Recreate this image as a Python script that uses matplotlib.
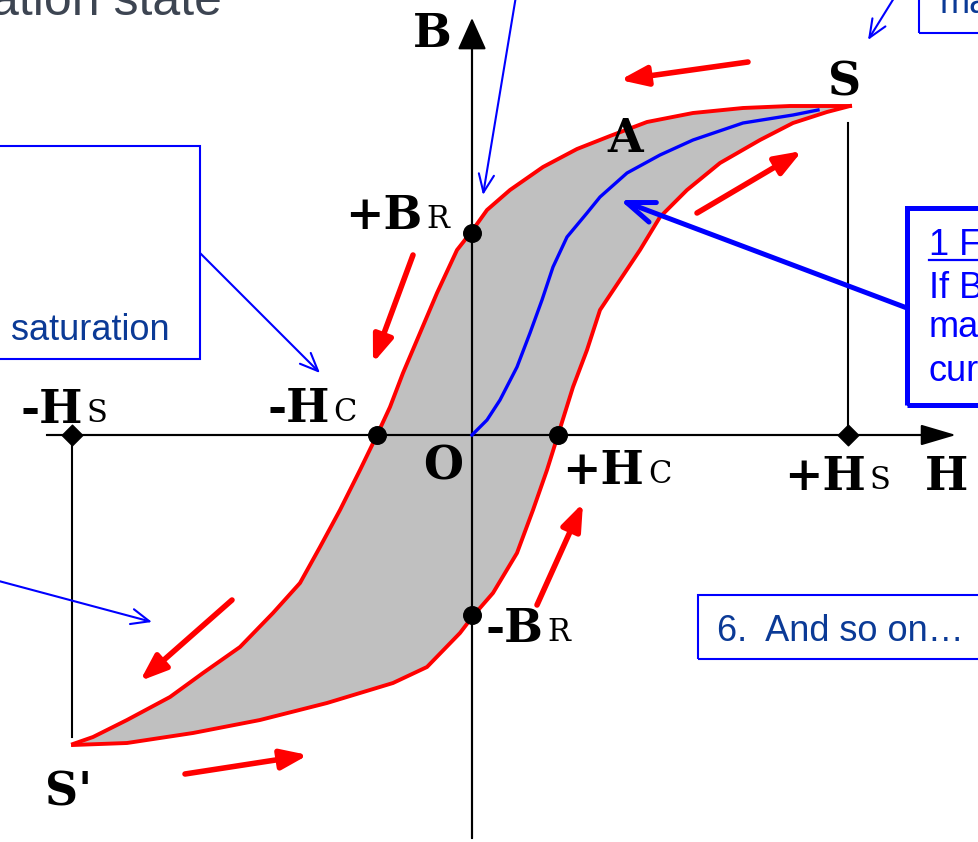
import numpy as np
import matplotlib
matplotlib.use('Agg')
import matplotlib.pyplot as plt
from matplotlib.patches import Rectangle

# ---------------- data (H, B in drawing units) ----------------
# descending branch S -> S'
h_down = [378, 318, 271, 221, 175, 138, 105, 71, 38, 15, 0, -15, -35, -52, -69, -82,
          -95, -112, -132, -152, -172, -199, -232, -269, -302, -345, -379, -399]
b_down = [329, 329, 327, 322, 313, 299, 286, 268, 245, 225, 204, 185, 142, 102, 62, 28,
          0, -35, -75, -112, -148, -178, -212, -238, -262, -285, -302, -309]
# ascending branch S' -> S
h_up = [-399, -345, -279, -212, -145, -79, -45, -12, 1, 21, 45, 61, 75, 86, 101, 115,
        128, 168, 188, 215, 248, 288, 321, 355, 378]
b_up = [-310, -308, -298, -285, -268, -248, -232, -198, -181, -158, -118, -75, -35, 0,
        48, 85, 125, 185, 218, 245, 272, 295, 312, 323, 329]
# initial magnetisation curve O -> S
h_init = [0, 15, 28, 45, 58, 70, 81, 95, 115, 128, 155, 188, 221, 271, 321, 346]
b_init = [0, 15, 35, 68, 102, 135, 168, 198, 222, 238, 262, 280, 295, 312, 320, 325]

# remanence / coercivity points (+Br, -Hc, +Hc, -Br)
key_h = [0, -95, 86, 0]
key_b = [202, 0, 0, -180]
# saturation field points (-Hs, +Hs) and the B level of their guide lines
sat_h = [-400, 376]
sat_b = [-302, 312]

# direction arrows along the loop (tail H, tail B, head H, head B)
dir_arrows = [
    (276, 373, 148, 355),
    (225, 222, 330, 284),
    (-59, 180, -99, 72),
    (65, -170, 111, -68),
    (-240, -165, -332, -246),
    (-287, -339, -164, -320),
]

# axis labels: main part, small suffix
labels_main = ["B", "S", "A", "+B", "-H", "-H", "O", "+H", "+H", "H", "-B", "S'"]
labels_sub = ["", "", "", "R", "C", "S", "", "C", "S", "", "R", ""]

title_text = "ation state"
box_texts = ["saturation", "6.  And so on\u2026", "ma"]
right_box_lines = ["1 F", "If B", "ma", "cur"]

# ---------------- figure ----------------
fig = plt.figure(figsize=(9.79, 8.42), dpi=100)
ax = fig.add_axes([0, 0, 1, 1])
ax.set_xlim(-472, 507)
ax.set_ylim(-407, 435)
ax.axis('off')

RED = '#ff0000'
BLUE = '#0000ff'
DBLUE = '#0b3a96'

# axes
ax.annotate('', xy=(484, 0), xytext=(-425, 0),
            arrowprops=dict(arrowstyle='-|>,head_length=2.2,head_width=0.65',
                            mutation_scale=10, lw=1.5, color='black',
                            shrinkA=0, shrinkB=0), zorder=2)
ax.annotate('', xy=(0, 417), xytext=(0, -403),
            arrowprops=dict(arrowstyle='-|>,head_length=2.0,head_width=0.9',
                            mutation_scale=10, lw=1.5, color='black',
                            shrinkA=0, shrinkB=0), zorder=2)

# loop fill
ax.fill(h_down + h_up, b_down + b_up, color='#c0c0c0', zorder=1, lw=0)
# re-draw axes lines over fill
ax.plot([-425, 470], [0, 0], color='black', lw=1.5, zorder=2)
ax.plot([0, 0], [-403, 400], color='black', lw=1.5, zorder=2)

# saturation guide lines
for hs, bs in zip(sat_h, sat_b):
    ax.plot([hs, hs], [0, bs], color='black', lw=1.5, zorder=2)

# branches
ax.plot(h_down, b_down, color=RED, lw=2.8, zorder=3, solid_joinstyle='round')
ax.plot(h_up, b_up, color=RED, lw=2.8, zorder=3, solid_joinstyle='round')
ax.plot(h_init, b_init, color=BLUE, lw=2.4, zorder=4, solid_joinstyle='round')

# points
ax.scatter(key_h, key_b, s=160, color='black', marker='o', zorder=5)
ax.scatter(sat_h, [0, 0], s=110, color='black', marker='D', zorder=5)

# direction arrows
for th, tb, hh, hb in dir_arrows:
    ax.annotate('', xy=(hh, hb), xytext=(th, tb),
                arrowprops=dict(arrowstyle='-|>,head_length=1.6,head_width=0.6',
                                mutation_scale=10, lw=4, color=RED,
                                shrinkA=0, shrinkB=0), zorder=6)

# labels
serif = 'DejaVu Serif'
main_pos = [(-59, 388), (356, 340), (135, 283), (-127, 206), (-205, 13), (-452, 12),
            (-49, -45), (90, -49), (312, -55), (453, -55), (13, -207), (-427, -370)]
for txt, sub, mp in zip(labels_main, labels_sub, main_pos):
    t = ax.text(mp[0], mp[1], txt, family=serif, weight='bold', fontsize=33,
                ha='left', va='baseline', zorder=7)
    if sub:
        ax.annotate(sub, xy=(1, 0), xycoords=t, xytext=(3, 2.6),
                    textcoords='offset points', family=serif, fontsize=22,
                    ha='left', va='bottom', zorder=7)

# title fragment
ax.text(-250, 420, title_text, family='Liberation Sans', fontsize=36,
        color='#3d4552', ha='right', va='baseline')

# boxes
box_kw = dict(fill=False, edgecolor=BLUE, zorder=8)
ax.add_patch(Rectangle((-475, 76), 203, 213, lw=1.5, **box_kw))
ax.add_patch(Rectangle((447, 402), 80, 50, lw=1.5, **box_kw))
ax.add_patch(Rectangle((435, 30), 95, 197, lw=3.6, **box_kw))
ax.add_patch(Rectangle((226, -224), 300, 64, lw=1.5, **box_kw))

ax.text(-461, 95, box_texts[0], family='Liberation Sans', fontsize=26,
        color=DBLUE, ha='left', va='baseline')
ax.text(245, -206, box_texts[1], family='Liberation Sans', fontsize=26,
        color=DBLUE, ha='left', va='baseline')
ax.text(468, 422, box_texts[2], family='Liberation Sans', fontsize=26,
        color=DBLUE, ha='left', va='baseline')

rb_y = [180, 137, 98, 54]
for line, y in zip(right_box_lines, rb_y):
    ax.text(457, y, line, family='Liberation Sans', fontsize=26,
            color=BLUE, ha='left', va='baseline')
ax.plot([457, 510], [175, 175], color=BLUE, lw=1.6)

# annotation arrows (thin, open heads)
thin = [((45, 445), (11, 240)), ((427, 445), (396, 395)),
        ((-272, 182), (-152, 62)), ((-477, -145), (-320, -187))]
for (x0, y0), (x1, y1) in thin:
    ax.annotate('', xy=(x1, y1), xytext=(x0, y0),
                arrowprops=dict(arrowstyle='->,head_length=1.3,head_width=0.55',
                                mutation_scale=10, lw=1.5, color=BLUE,
                                shrinkA=0, shrinkB=0), zorder=9)
ax.annotate('', xy=(148, 235), xytext=(435, 127),
            arrowprops=dict(arrowstyle='->,head_length=2.0,head_width=0.75',
                            mutation_scale=10, lw=3.6, color=BLUE,
                            shrinkA=0, shrinkB=0), zorder=9)

fig.savefig('out.png', dpi=100)
